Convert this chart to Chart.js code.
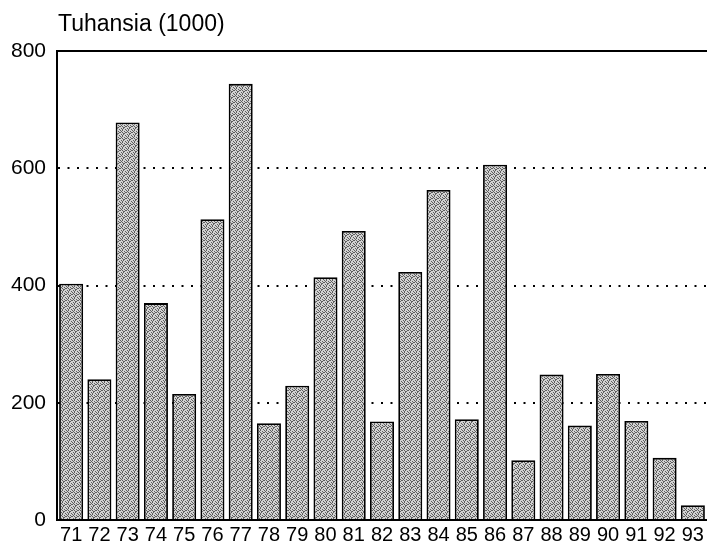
<!DOCTYPE html>
<html>
<head>
<meta charset="utf-8">
<script src="https://cdn.jsdelivr.net/npm/chart.js@4/dist/chart.umd.min.js"></script>
<style>
  html, body { margin: 0; padding: 0; background: #fff; }
  #wrap { width: 707px; height: 547px; position: relative; }
</style>
</head>
<body>
<div id="wrap"><canvas id="c" width="707" height="547"></canvas></div>
<script>
const categories = ["71","72","73","74","75","76","77","78","79","80","81","82","83","84","85","86","87","88","89","90","91","92","93"];
const values = [403, 240, 678, 370, 215, 513, 744, 165, 229, 414, 493, 168, 423, 563, 172, 606, 102, 248, 161, 249, 169, 106, 25];
const yTicks = [0, 200, 400, 600, 800];
const axisTitle = "Tuhansia (1000)";

function stipple() {
  const p = document.createElement('canvas');
  p.width = 6; p.height = 6;
  const g = p.getContext('2d');
  g.fillStyle = '#d2d2d2';
  g.fillRect(0, 0, 6, 6);
  g.fillStyle = '#5e5e5e';
  const dots = [[0,0],[2,0],[4,1],[1,2],[3,2],[5,3],[0,4],[2,4],[4,5],[1,5],[3,1],[5,0],[2,3]];
  dots.forEach(([x, y]) => g.fillRect(x, y, 1, 1));
  return g.createPattern(p, 'repeat');
}

const FONT = "'Liberation Sans', Arial, Helvetica, sans-serif";

const framePlugin = {
  id: 'frame',
  afterDatasetsDraw(chart) {
    const { ctx, chartArea, scales } = chart;
    ctx.save();
    ctx.strokeStyle = '#000';
    ctx.lineWidth = 2;
    const yTop = scales.y.getPixelForValue(800);
    ctx.beginPath();
    ctx.moveTo(chartArea.left, yTop);
    ctx.lineTo(chartArea.right, yTop);
    ctx.stroke();
    ctx.restore();
  },
  afterDraw(chart) {
    const { ctx, chartArea } = chart;
    ctx.save();
    ctx.fillStyle = '#000';
    ctx.font = "23px " + FONT;
    ctx.textBaseline = 'alphabetic';
    ctx.textAlign = 'left';
    ctx.fillText(axisTitle, chartArea.left + 1, 31);
    ctx.restore();
  }
};

new Chart(document.getElementById('c'), {
  type: 'bar',
  data: {
    labels: categories,
    datasets: [{
      data: values,
      backgroundColor: stipple(),
      borderColor: '#000',
      borderWidth: 1.8,
      borderSkipped: 'bottom',
      barPercentage: 0.85,
      categoryPercentage: 1.0
    }]
  },
  options: {
    responsive: false,
    animation: false,
    devicePixelRatio: 1,
    layout: { padding: { top: 51, right: 0, bottom: 0, left: 0 } },
    plugins: { legend: { display: false }, tooltip: { enabled: false }, title: { display: false } },
    scales: {
      x: {
        offset: true,
        afterFit(scale) { scale.height = 27; },
        grid: { display: false, drawTicks: false },
        border: { display: true, color: '#000', width: 2 },
        ticks: { color: '#000', font: { family: FONT, size: 20 }, padding: 3, maxRotation: 0, autoSkip: false }
      },
      y: {
        min: 0, max: 800,
        afterBuildTicks(scale) { scale.ticks = yTicks.map(v => ({ value: v })); },
        afterFit(scale) { scale.width = 57; },
        grid: {
          drawTicks: false,
          lineWidth: 2,
          color: (c) => (c.tick && (c.tick.value === 0 || c.tick.value === 800)) ? 'rgba(0,0,0,0)' : '#000'
        },
        border: { display: true, color: '#000', width: 2, dash: [2, 7.5] },
        ticks: { color: '#000', font: { family: FONT, size: 21 }, padding: 11 }
      }
    }
  },
  plugins: [framePlugin]
});
</script>
</body>
</html>
